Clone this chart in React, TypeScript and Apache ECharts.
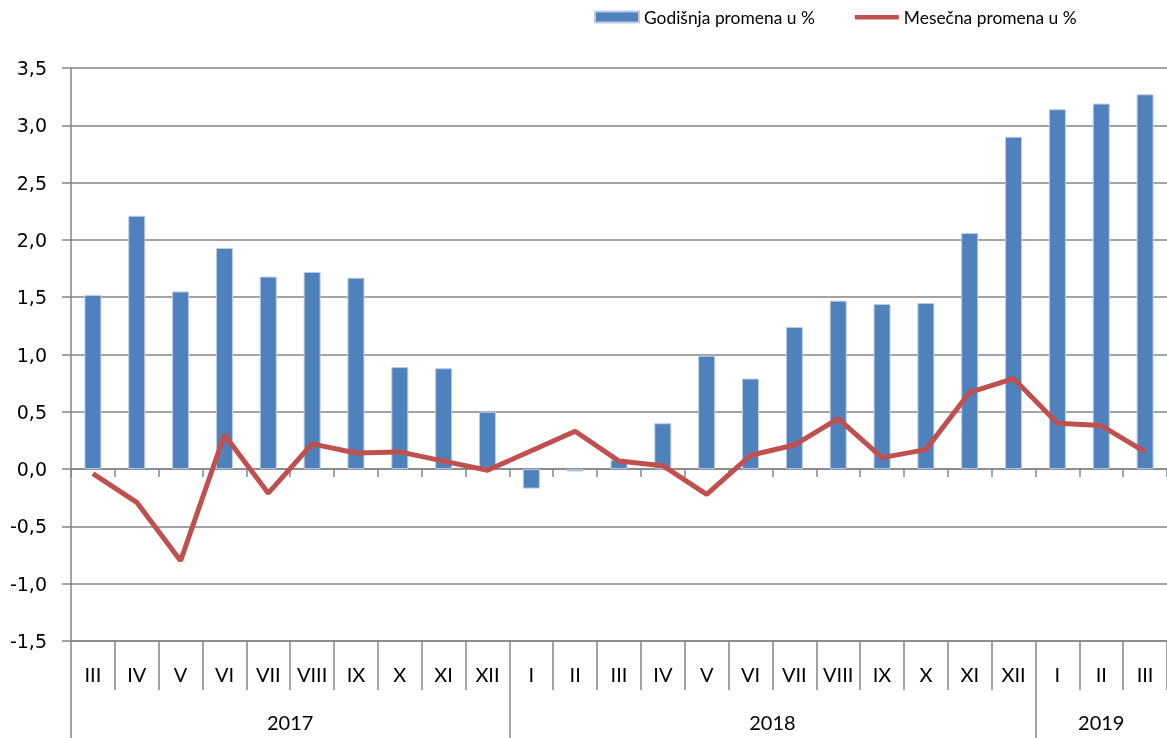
import React, { useEffect, useRef } from "react";
import * as echarts from "echarts";

const months = ["III","IV","V","VI","VII","VIII","IX","X","XI","XII","I","II","III","IV","V","VI","VII","VIII","IX","X","XI","XII","I","II","III"];
const years = ["2017", "2018", "2019"];
const yearCounts = [10, 12, 3];
const annualChange = [1.52, 2.21, 1.55, 1.93, 1.68, 1.72, 1.67, 0.89, 0.88, 0.50, -0.17, -0.02, 0.08, 0.40, 0.99, 0.79, 1.24, 1.47, 1.44, 1.45, 2.06, 2.90, 3.14, 3.19, 3.27];
const monthlyChange = [-0.04, -0.29, -0.80, 0.30, -0.21, 0.22, 0.14, 0.15, 0.07, -0.01, 0.16, 0.33, 0.07, 0.03, -0.22, 0.12, 0.21, 0.44, 0.10, 0.17, 0.67, 0.79, 0.40, 0.38, 0.15];
const seriesNames = ["Godišnja promena u %", "Mesečna promena u %"];

const GRID = "#868686";
const CAT_FONT = "Lato, 'Open Sans', sans-serif";

export default function App() {
  const ref = useRef<HTMLDivElement>(null);
  useEffect(() => {
    if (!ref.current) return;
    const chart = echarts.init(ref.current, null, { renderer: "svg" });

    const yearStarts: number[] = [];
    const yearCenters: number[] = [];
    let acc = 0;
    yearCounts.forEach((c) => {
      yearStarts.push(acc);
      yearCenters.push(acc + c / 2);
      acc += c;
    });

    chart.setOption({
      animation: false,
      legend: {
        left: 594,
        top: 7,
        padding: 0,
        itemWidth: 44,
        itemHeight: 11,
        itemGap: 40,
        textStyle: { fontFamily: CAT_FONT, fontSize: 17.4, color: "#000", lineHeight: 20 },
        data: [
          { name: seriesNames[0], icon: "rect" },
          { name: seriesNames[1], icon: "path://M0,0H0.01M0,3.5H44V8H0Z M0,11H0.01" },
        ],
      },
      grid: { left: 71, top: 68, width: 1097.5, height: 573, containLabel: false },
      xAxis: [
        {
          type: "category",
          data: months,
          position: "bottom",
          axisLine: { onZero: false, lineStyle: { color: GRID, width: 1.5 } },
          axisTick: { show: true, interval: 0, length: 49, lineStyle: { color: GRID, width: 1.5 } },
          axisLabel: { interval: 0, margin: 23, fontFamily: CAT_FONT, fontSize: 20, color: "#000" },
          splitLine: { show: false },
        },
        {
          type: "category",
          data: months,
          position: "bottom",
          axisLine: { onZero: true, lineStyle: { color: GRID, width: 1.5 } },
          axisTick: { show: true, interval: 0, length: 8, lineStyle: { color: GRID, width: 1.5 } },
          axisLabel: { show: false },
          splitLine: { show: false },
        },
        {
          type: "value",
          min: 0,
          max: months.length,
          position: "bottom",
          offset: 49,
          axisLine: { show: false, onZero: false },
          axisTick: { show: true, length: 48, customValues: yearStarts, lineStyle: { color: GRID, width: 1.5 } },
          axisLabel: {
            margin: 22,
            customValues: yearCenters,
            formatter: (v: number) => {
              const i = yearCenters.indexOf(v);
              return i >= 0 ? years[i] : "";
            },
            fontFamily: CAT_FONT,
            fontSize: 20,
            color: "#000",
          },
          splitLine: { show: false },
        },
      ],
      yAxis: {
        type: "value",
        min: -1.5,
        max: 3.5,
        interval: 0.5,
        axisLine: { show: true, onZero: false, lineStyle: { color: GRID, width: 1.5 } },
        axisTick: { show: true, length: 9, lineStyle: { color: GRID, width: 1.5 } },
        axisLabel: {
          margin: 24,
          fontFamily: "'DejaVu Sans', Verdana, sans-serif",
          fontSize: 19,
          color: "#000",
          formatter: (v: number) => v.toFixed(1).replace(".", ","),
        },
        splitLine: { show: true, lineStyle: { color: GRID, width: 1.5 } },
      },
      series: [
        {
          name: seriesNames[0],
          type: "bar",
          xAxisIndex: 0,
          data: annualChange,
          barWidth: 17,
          itemStyle: { color: "#4F81BD", borderColor: "#B9CDE5", borderWidth: 1 },
          z: 2,
        },
        {
          name: seriesNames[1],
          type: "line",
          xAxisIndex: 0,
          data: monthlyChange,
          symbol: "none",
          lineStyle: { color: "#C0504D", width: 5 },
          itemStyle: { color: "#C0504D" },
          z: 3,
        },
      ],
    });
    return () => chart.dispose();
  }, []);
  return <div ref={ref} style={{ position: "fixed", left: 0, top: 0, width: 1167, height: 738 }} />;
}
